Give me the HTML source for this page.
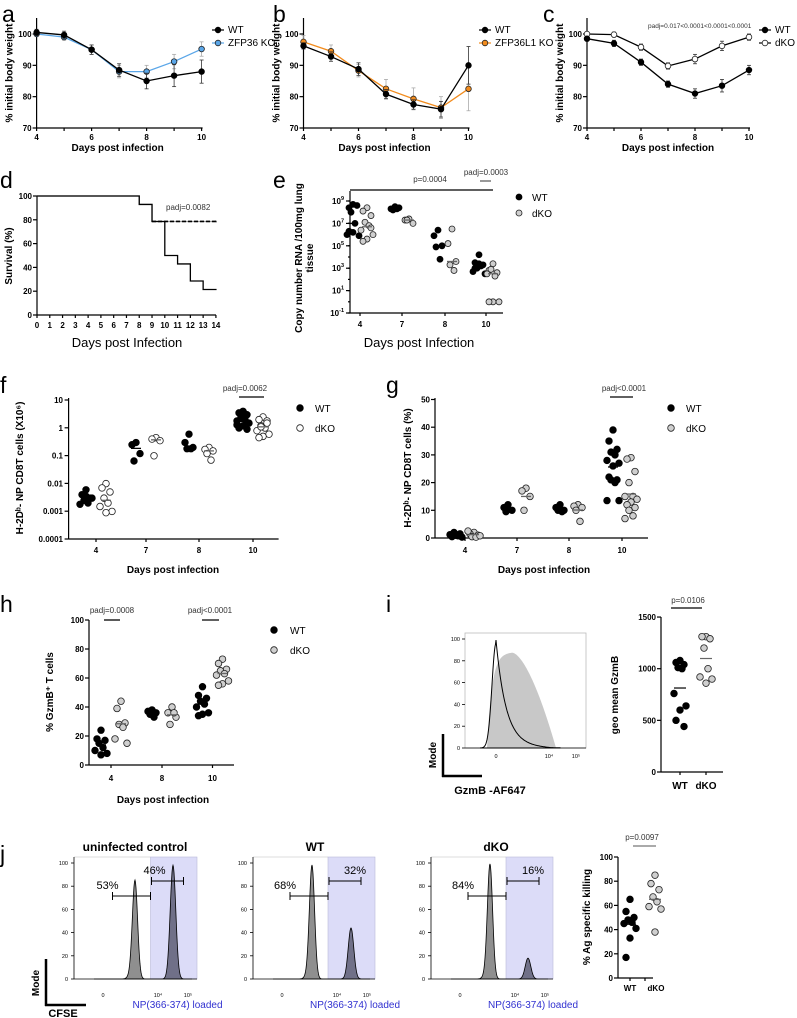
<!DOCTYPE html>
<html><head><meta charset="utf-8">
<style>
html,body{margin:0;padding:0;background:#fff;}
svg{display:block;font-family:"Liberation Sans Narrow","Liberation Sans",sans-serif;}
.t{font-weight:bold;font-size:8px;fill:#000;}
.ti{font-weight:bold;font-size:10px;fill:#000;}
.lt{font-family:"Liberation Sans",sans-serif;font-size:23px;fill:#000;}
.lg{font-size:10px;fill:#000;}
.p{font-size:8px;fill:#333;}
.my{font-family:"Liberation Sans Narrow","Liberation Sans",sans-serif;font-size:13px;fill:#000;}
</style></head>
<body>
<svg id="fig" width="797" height="1018" viewBox="0 0 797 1018" xmlns="http://www.w3.org/2000/svg"></svg>
<script>
// ---------- DATA ----------
const weightDays=[4,5,6,7,8,9,10];
const aWT=[100.5,99.7,95,88.5,85,86.7,88];
const aWTerr=[1,1.2,1.5,2,2.5,3.5,3.7];
const aKO=[100,99,95,88,88,91.2,95.2];
const aKOerr=[0.5,1,1.5,2,2,2.3,2.3];
const bWT=[96.2,92.8,88.8,80.8,77.5,76,90];
const bWTerr=[1,1.5,2,1.5,1.5,2.5,6];
const bKO=[97.5,94.5,88.3,82.5,79.3,76.5,82.5];
const bKOerr=[2,2,2,3,3.5,3.5,7];
const cWT=[98.5,97,91,84,81,83.5,88.5];
const cWTerr=[0.7,1,1,1,1.5,2,1.5];
const cKO=[100,99.8,95.8,89.8,92,96.2,99];
const cKOerr=[0.5,0.8,1,1,1.5,1.5,1];
const weightTicks=[70,80,90,100];
const weightXTicks=[4,6,8,10];
const survDays=[0,8,9,10,11,12,13,14];
const survWT=[100,92.9,78.6,50,42.9,28.6,21.4,22];
const survKO=[100,92.9,78.6,78.6,78.6,78.6,78.6,79.5];
const survTicks=[0,20,40,60,80,100];
const eCats=["4","7","8","10"];
const eWT=[[8.7,8.4,8.6,8.0,7.0,6.0,5.9,6.2,6.3],[8.5,8.3,8.4,8.2,8.3],[6.4,5.9,5.0,4.9,3.8],[4.2,3.5,3.3,3.0,3.2,2.7,2.5,3.4,3.0]];
const eKO=[[8.4,8.1,7.7,7.1,6.8,6.4,6.0,5.6,5.4,6.6],[7.4,7.3,7.0,7.3],[6.5,5.2,3.6,3.3,2.8],[3.4,2.8,2.6,2.9,2.3,2.5,0,0,0]];
const eTicks=[-1,1,3,5,7,9];
const fCats=["4","7","8","10"];
const fWT=[[0.006,0.004,0.003,0.0025,0.002,0.0018,0.003,0.0035],[0.3,0.25,0.12,0.065],[0.6,0.3,0.2,0.18,0.18],[4,3.5,3,2.5,2,1.8,1.5,1.2,1,0.9,2.2,3.2,1.3]];
const fKO=[[0.01,0.007,0.005,0.003,0.002,0.0015,0.001,0.0009],[0.45,0.4,0.35,0.1],[0.2,0.17,0.15,0.12,0.07],[2.5,2,1.8,1.2,1,0.8,0.6,0.5,0.45,1.5,1.1]];
const fTickLabels=["10","1","0.1","0.01","0.001","0.0001"];
const gCats=["4","7","8","10"];
const gWT=[[1,0.5,1.5,2,0.8,1.2,0.3,1],[12,11,10,9.5],[12,11,10,10,9.5],[39,35,32,31,30,28,27,26,22,21,21,20,13.5,13.5]];
const gKO=[[2,1.5,1,0.5,0.3,2.5,0.8],[18,17,15,10],[12,11.5,11,10,6],[29,28.5,24,20,15,15,14,13,12,11,10,8,7]];
const gTicks=[0,10,20,30,40,50];
const hCats=["4","8","10"];
const hWT=[[24,18,17,15,12,10,8,7],[38,37,36,35,33],[54,48,46,44,42,40,36,35,34]];
const hKO=[[44,39,29,28,26,18,15],[40,36,33,28,36],[73,70,66,65,63,62,58,56,55]];
const hTicks=[0,20,40,60,80,100];
const iWT=[1080,1060,1040,1010,1000,760,640,600,500,440];
const iKO=[1310,1310,1290,1200,1000,920,900,860];
const iTicks=[0,500,1000,1500];
const jWT=[65,55,50,48,46,45,41,33,17];
const jKO=[85,78,73,67,63,59,57,38];
const jTicks=[0,20,40,60,80,100];
const jTitles=["uninfected control","WT","dKO"];
const jLeftPct=["53%","68%","84%"];
const jRightPct=["46%","32%","16%"];
const jLeftPeak=[84,97,98];
const jRightPeak=[98,44,18];
const histTicks=[0,20,40,60,80,100];

// ---------- HELPERS ----------
const NS="http://www.w3.org/2000/svg";
const svg=document.getElementById('fig');
function mk(tag,attrs,name,parent){
  const el=document.createElementNS(NS,tag);
  for(const k in attrs) el.setAttribute(k,attrs[k]);
  
  
  (parent||svg).appendChild(el);return el;
}
function ln(x1,y1,x2,y2,name,st,w,dash){return mk('line',{x1,y1,x2,y2,stroke:st||'#000','stroke-width':w||1.2,'stroke-dasharray':dash||'none'},name);}
function tx(x,y,s,name,cls,anchor,extra){const e=mk('text',Object.assign({x,y,class:cls||'t','text-anchor':anchor||'middle'},extra||{}),name);e.textContent=s;return e;}
function rtx(x,y,s,name,cls){return tx(x,y,s,name,cls||'ti','middle',{transform:`rotate(-90 ${x} ${y})`});}
function dot(x,y,fill,name,r){return mk('circle',{cx:x,cy:y,r:r||3.3,fill:fill,stroke:fill==='#000'?'#000':'#222','stroke-width':0.8},name);}
function median(a){const s=[...a].sort((p,q)=>p-q);const m=Math.floor(s.length/2);return s.length%2?s[m]:(s[m-1]+s[m])/2;}
function mean(a){return a.reduce((p,q)=>p+q,0)/a.length;}
function jit(i,n){const cols=[0,-4,4,-2,2,-6,6];return cols[i%7];}

// ---------- WEIGHT PANELS a,b,c ----------
function weightPanel(x0,pd,letter,lx,wt,wte,ko,koe,col,open,leg,legx,extra){
  const X=d=>x0+(d-4)*pd, Y=v=>128-(v-70)*(94/30);
  tx(lx,22,letter,'panel-letter-'+letter,'lt','start');
  ln(x0,18,x0,128,'y-axis-'+letter);
  ln(x0,128,X(10)+1,128,'x-axis-'+letter);
  weightTicks.forEach(v=>{ln(x0-4,Y(v),x0,Y(v),'y-tick-'+letter);tx(x0-5,Y(v)+3,String(v),'y-tick-label-'+letter,'t','end');});
  weightDays.forEach(d=>ln(X(d),128,X(d),131,'x-tick-'+letter));
  weightXTicks.forEach(d=>tx(X(d),140,String(d),'x-tick-label-'+letter));
  tx(x0+81,151,'Days post infection','x-axis-title-'+letter,'ti');
  rtx(x0-24,73,'% initial body weight','y-axis-title-'+letter);
  const ser=[[ko,koe,col,'ko'],[wt,wte,'#000','wt']];
  ser.forEach(([vals,err,c,n])=>{
    const ec=c==='#000'?'#333':'#aaa';
    vals.forEach((v,i)=>{ln(X(weightDays[i]),Y(v+err[i]),X(weightDays[i]),Y(v-err[i]),'error-bar-'+n,ec,0.8);
      ln(X(weightDays[i])-2,Y(v+err[i]),X(weightDays[i])+2,Y(v+err[i]),'error-cap-'+n,ec,0.8);
      ln(X(weightDays[i])-2,Y(v-err[i]),X(weightDays[i])+2,Y(v-err[i]),'error-cap-'+n,ec,0.8);});
    mk('polyline',{points:vals.map((v,i)=>X(weightDays[i])+','+Y(v)).join(' '),fill:'none',stroke:c,'stroke-width':1.3},'line-'+n+'-'+letter);
    vals.forEach((v,i)=>dot(X(weightDays[i]),Y(v),(open&&n==='ko')?'#fff':c,'point-'+n+'-'+letter,2.8));
  });
  ln(legx-6,30,legx+6,30,'legend-wt-line-'+letter);dot(legx,30,'#000','legend-wt-marker-'+letter,2.8);
  tx(legx+10,33,'WT','legend-wt-label-'+letter,'lg','start');
  ln(legx-6,43,legx+6,43,'legend-ko-line-'+letter,col);dot(legx,43,open?'#fff':col,'legend-ko-marker-'+letter,2.8);
  tx(legx+10,46,leg,'legend-ko-label-'+letter,'lg','start');
  if(extra) tx(extra[0],extra[1],extra[2],'pvalue-'+letter,'p','start',{style:'font-size:6.5px'});
}
weightPanel(36.6,27.5,'a',2,aWT,aWTerr,aKO,aKOerr,'#5aa6e8',false,'ZFP36 KO',218);
weightPanel(303.5,27.5,'b',273,bWT,bWTerr,bKO,bKOerr,'#f28c1e',false,'ZFP36L1 KO',485);
weightPanel(587,27,'c',543,cWT,cWTerr,cKO,cKOerr,'#000',true,'dKO',765,[648,28,'padj=0.017<0.0001<0.0001<0.0001']);

// ---------- d SURVIVAL ----------
(function(){
  const X=t=>37+t*12.78, Y=v=>315-v*1.19;
  tx(0,188,'d','panel-letter-d','lt','start');
  ln(37,196,37,315,'y-axis-d');ln(37,315,216,315,'x-axis-d');
  survTicks.forEach(v=>{ln(33,Y(v),37,Y(v),'y-tick-d');tx(32,Y(v)+3,String(v),'y-tick-label-d','t','end');});
  for(let t=0;t<=14;t++){ln(X(t),315,X(t),318,'x-tick-d');tx(X(t),328,String(t),'x-tick-label-d');}
  tx(127,347,'Days post Infection','x-axis-title-d','my');
  rtx(12,256,'Survival (%)','y-axis-title-d');
  function steps(days,vals){let p=`M${X(days[0])},${Y(vals[0])}`;for(let i=1;i<days.length;i++){p+=` H${X(days[i])} V${Y(vals[i])}`;}return p;}
  mk('path',{d:steps(survDays,survKO),fill:'none',stroke:'#999','stroke-width':1.2},'survival-dko-line');
  mk('path',{d:`M${X(9)},${Y(survKO[3])} H${X(14)} V${Y(survKO[7])}`,fill:'none',stroke:'#000','stroke-width':1.6,'stroke-dasharray':'4,2'},'survival-dko-dashed');
  mk('path',{d:steps(survDays,survWT),fill:'none',stroke:'#000','stroke-width':1.3},'survival-wt-line');
  tx(166,210,'padj=0.0082','pvalue-d','p','start');
})();

// ---------- GENERIC DOT PLOT ----------
function dotPlot(o){
  o.cats.forEach((c,ci)=>{
    const cx=o.cx[ci];
    [[o.wt[ci],-o.off,'#000','wt'],[o.ko[ci],o.off,o.koFill,'ko']].forEach(([vals,off,fill,n])=>{
      vals.forEach((v,i)=>dot(cx+off+jit(i),o.Y(v),fill,'point-'+n+'-'+o.id+'-'+c,o.r||3.3));
      const m=o.stat(vals);
      ln(cx+off-5,o.Y(m),cx+off+5,o.Y(m),'mean-line-'+n+'-'+o.id,n==='wt'?'#000':'#666',1.3);
    });
  });
}

// ---------- e ----------
(function(){
  const Y=l=>313-(l+1)*11.2; const cx=[360,402,445,486];
  tx(273,188,'e','panel-letter-e','lt','start');
  ln(350,191,350,313,'y-axis-e');ln(350,313,503,313,'x-axis-e');
  eTicks.forEach(l=>{ln(346,Y(l),350,Y(l),'y-tick-e');const t=tx(344,Y(l)+3,'10','y-tick-label-e','t','end');
    const s=document.createElementNS(NS,'tspan');s.setAttribute('dy','-4');s.setAttribute('style','font-size:5.5px');s.textContent=String(l);t.appendChild(s);});
  for(let l=-1;l<=9;l++){ln(348,Y(l),350,Y(l),'y-minor-tick-e');}
  eCats.forEach((c,i)=>{ln(cx[i],313,cx[i],316,'x-tick-e');tx(cx[i],327,c,'x-tick-label-e');});
  tx(419,347,'Days post Infection','x-axis-title-e','my');
  rtx(302,258,'Copy number RNA /100mg lung','y-axis-title-e');
  rtx(313,258,'tissue','y-axis-title-e-line2');
  dotPlot({id:'e',cats:eCats,cx,wt:eWT,ko:eKO,koFill:'#cfcfcf',off:7,Y,stat:median,r:3});
  ln(350,190,493,190,'significance-bar-e',null,1.3);
  tx(430,182,'p=0.0004','pvalue-e-overall','p');
  tx(486,175,'padj=0.0003','pvalue-e-day10','p');
  ln(480,181,491,181,'significance-bar-e-day10','#555',1.2);
  dot(519,197,'#000','legend-wt-marker-e',3);tx(532,201,'WT','legend-wt-label-e','lg','start');
  dot(519,213,'#cfcfcf','legend-dko-marker-e',3);tx(532,217,'dKO','legend-dko-label-e','lg','start');
})();

// ---------- f ----------
(function(){
  const Y=v=>428-Math.log10(v)*27.8; const cx=[96,146,199,253];
  tx(0,393,'f','panel-letter-f','lt','start');
  ln(68.6,398,68.6,539,'y-axis-f');ln(68.6,539,278.6,539,'x-axis-f');
  fTickLabels.forEach((s,i)=>{const y=400+i*27.8;ln(64.6,y,68.6,y,'y-tick-f');tx(63,y+3,s,'y-tick-label-f','t','end');});
  fCats.forEach((c,i)=>{ln(cx[i],539,cx[i],542,'x-tick-f');tx(cx[i],553,c,'x-tick-label-f');});
  tx(173,573,'Days post infection','x-axis-title-f','ti');
  rtx(23,468,'H-2Dᵇ- NP CD8T cells (X10⁶)','y-axis-title-f');
  dotPlot({id:'f',cats:fCats,cx,wt:fWT,ko:fKO,koFill:'#fff',off:10,Y,stat:median});
  tx(245,391,'padj=0.0062','pvalue-f','p');ln(239,397,264,397,'significance-bar-f',null,1.3);
  dot(300,408,'#000','legend-wt-marker-f');tx(315,412,'WT','legend-wt-label-f','lg','start');
  dot(300,428,'#fff','legend-dko-marker-f');tx(315,432,'dKO','legend-dko-label-f','lg','start');
})();

// ---------- g ----------
(function(){
  const Y=v=>538-v*2.77; const cx=[465,517,569,622];
  tx(386,393,'g','panel-letter-g','lt','start');
  ln(435,398,435,538,'y-axis-g');ln(435,538,648,538,'x-axis-g');
  gTicks.forEach(v=>{ln(431,Y(v),435,Y(v),'y-tick-g');tx(430,Y(v)+3,String(v),'y-tick-label-g','t','end');});
  gCats.forEach((c,i)=>{ln(cx[i],538,cx[i],541,'x-tick-g');tx(cx[i],553,c,'x-tick-label-g');});
  tx(544,573,'Days post infection','x-axis-title-g','ti');
  rtx(411,468,'H-2Dᵇ- NP CD8T cells (%)','y-axis-title-g');
  dotPlot({id:'g',cats:gCats,cx,wt:gWT,ko:gKO,koFill:'#cfcfcf',off:9,Y,stat:mean});
  tx(624,391,'padj<0.0001','pvalue-g','p');ln(610,397,633,397,'significance-bar-g',null,1.3);
  dot(671,408,'#000','legend-wt-marker-g');tx(686,412,'WT','legend-wt-label-g','lg','start');
  dot(671,428,'#cfcfcf','legend-dko-marker-g');tx(686,432,'dKO','legend-dko-label-g','lg','start');
})();

// ---------- h ----------
(function(){
  const Y=v=>765-v*1.45; const cx=[111,162,212.5];
  tx(0,612,'h','panel-letter-h','lt','start');
  ln(89,620,89,765,'y-axis-h');ln(89,765,234,765,'x-axis-h');
  hTicks.forEach(v=>{ln(85,Y(v),89,Y(v),'y-tick-h');tx(84,Y(v)+3,String(v),'y-tick-label-h','t','end');});
  hCats.forEach((c,i)=>{ln(cx[i],765,cx[i],768,'x-tick-h');tx(cx[i],781,c,'x-tick-label-h');});
  tx(163,803,'Days post infection','x-axis-title-h','ti');
  rtx(53,692,'% GzmB⁺ T cells','y-axis-title-h');
  dotPlot({id:'h',cats:hCats,cx,wt:hWT,ko:hKO,koFill:'#cfcfcf',off:10,Y,stat:mean});
  tx(112,613,'padj=0.0008','pvalue-h-day4','p');ln(104,620,120,620,'significance-bar-h-day4',null,1.3);
  tx(210,613,'padj<0.0001','pvalue-h-day10','p');ln(202,620,219,620,'significance-bar-h-day10',null,1.3);
  dot(274,630,'#000','legend-wt-marker-h');tx(290,634,'WT','legend-wt-label-h','lg','start');
  dot(274,650,'#cfcfcf','legend-dko-marker-h');tx(290,654,'dKO','legend-dko-label-h','lg','start');
})();

// ---------- histogram helper ----------
function gauss(x,c,s){return Math.exp(-0.5*((x-c)/s)**2);}
function curvePath(x0,x1,yBase,Yf,fn){let p=`M${x0},${yBase}`;for(let x=x0;x<=x1;x+=0.5){p+=` L${x.toFixed(1)},${Yf(fn(x)).toFixed(1)}`;}return p+` L${x1},${yBase}Z`;}

// ---------- i ----------
(function(){
  tx(386,612,'i','panel-letter-i','lt','start');
  const base=748, Yh=v=>base-v*1.09;
  mk('rect',{x:465,y:633,width:121,height:115,fill:'none',stroke:'#bbb','stroke-width':0.8},'histogram-frame-i');
  const grey=x=>x<487?0:Math.min(88,88*(1-Math.exp(-(x-487)/5)))*(x<512?1:Math.max(0,1-((x-512)/44)**1.6));
  mk('path',{d:curvePath(480,560,base,Yh,grey),fill:'#c8c8c8',stroke:'none'},'histogram-dko-fill');
  const blk=x=>x<496?96*gauss(x,496,4):96*Math.exp(-(x-496)/10)+ (x<550?3*(1-(x-496)/54):0);
  mk('path',{d:curvePath(480,560,base,Yh,blk),fill:'none',stroke:'#000','stroke-width':1},'histogram-wt-line');
  ln(465,748,586,748,'histogram-x-axis-i','#000',0.8);
  histTicks.forEach(v=>{ln(462,Yh(v),465,Yh(v),'histogram-y-tick-i',null,0.8);tx(460,Yh(v)+2,String(v),'histogram-y-tick-label-i','t','end',{style:'font-size:5.5px;font-weight:normal'});});
  tx(496,758,'0','histogram-x-tick-label-i','t','middle',{style:'font-size:5.5px;font-weight:normal'});
  tx(549,758,'10⁴','histogram-x-tick-label-i','t','middle',{style:'font-size:5.5px;font-weight:normal'});
  tx(576,758,'10⁵','histogram-x-tick-label-i','t','middle',{style:'font-size:5.5px;font-weight:normal'});
  ln(443,734,443,777,'scale-bar-vertical-i',null,2.5);ln(442,776,482,776,'scale-bar-horizontal-i',null,2.5);
  rtx(436,755,'Mode','mode-label-i','ti');
  tx(490,794,'GzmB -AF647','gzmb-axis-title-i','ti',null,{style:'font-size:11px'});
  const Y=v=>772-v*0.1033;
  ln(661,617,661,772,'y-axis-i-scatter');ln(661,772,723,772,'x-axis-i-scatter');
  iTicks.forEach(v=>{ln(657,Y(v),661,Y(v),'y-tick-i');tx(656,Y(v)+3,String(v),'y-tick-label-i','t','end');});
  ln(680,772,680,775,'x-tick-i');ln(706,772,706,775,'x-tick-i');
  tx(680,789,'WT','x-tick-label-wt-i','ti');tx(706,789,'dKO','x-tick-label-dko-i','ti');
  rtx(618,695,'geo mean GzmB','y-axis-title-i');
  iWT.forEach((v,i)=>dot(680+jit(i),Y(v),'#000','point-wt-i'));
  iKO.forEach((v,i)=>dot(706+jit(i),Y(v),'#cfcfcf','point-dko-i'));
  ln(674,Y(mean(iWT)),686,Y(mean(iWT)),'mean-line-wt-i');
  ln(700,Y(mean(iKO)),712,Y(mean(iKO)),'mean-line-dko-i','#666');
  tx(688,603,'p=0.0106','pvalue-i','p');ln(671,608,702,608,'significance-bar-i',null,1.3);
})();

// ---------- j ----------
(function(){
  tx(0,862,'j','panel-letter-j','lt','start');
  const ax=[74,253,431], axEnd=[197,375,553], blue=[150.5,328,506], lp=[135,312,490], rp=[173,351,528], tc=[135,315,496];
  const base=979, Yh=v=>base-v*1.16;
  jTitles.forEach((t,k)=>{
    tx(tc[k],851,t,'histogram-title-'+k,'ti',null,{style:'font-size:12px'});
    mk('rect',{x:blue[k],y:857,width:axEnd[k]-blue[k],height:base-857,fill:'#dcdcf8',stroke:'#b9b9d9','stroke-width':0.6},'np-loaded-region-'+k);
    mk('line',{x1:ax[k],y1:857,x2:blue[k],y2:857,stroke:'#bbb','stroke-width':0.6},'histogram-frame-top-'+k);
    const fn=x=>jLeftPeak[k]*gauss(x,lp[k],2.6)+jRightPeak[k]*gauss(x,rp[k],2.8)+3*gauss(x,lp[k]-4,3);
    mk('path',{d:curvePath(ax[k]+20,blue[k],base,Yh,fn),fill:'#8f8f8f',stroke:'#000','stroke-width':0.8},'histogram-unloaded-peak-'+k);
    mk('path',{d:curvePath(blue[k],axEnd[k]-5,base,Yh,fn),fill:'#707088',stroke:'#000','stroke-width':0.8},'histogram-loaded-peak-'+k);
    ln(ax[k],857,ax[k],base,'histogram-y-axis-'+k,null,0.8);
    ln(ax[k],base,axEnd[k],base,'histogram-x-axis-'+k,null,0.8);
    histTicks.forEach(v=>{ln(ax[k]-3,Yh(v),ax[k],Yh(v),'histogram-y-tick-'+k,null,0.8);tx(ax[k]-6,Yh(v)+2,String(v),'histogram-y-tick-label-'+k,'t','end',{style:'font-size:5.5px;font-weight:normal'});});
    tx(ax[k]+29,997,'0','histogram-x-tick-label-'+k,'t','middle',{style:'font-size:5.5px;font-weight:normal'});
    tx(ax[k]+84,997,'10⁴','histogram-x-tick-label-'+k,'t','middle',{style:'font-size:5.5px;font-weight:normal'});
    tx(ax[k]+114,997,'10⁵','histogram-x-tick-label-'+k,'t','middle',{style:'font-size:5.5px;font-weight:normal'});
    const lx1=blue[k]-38, rx2=blue[k]+33;
    ln(lx1,896,blue[k],896,'gate-unloaded-'+k,null,1);ln(lx1,892,lx1,900,'gate-cap-'+k,null,1);ln(blue[k],892,blue[k],900,'gate-cap-'+k,null,1);
    ln(blue[k]+1,881,rx2,881,'gate-loaded-'+k,null,1);ln(blue[k]+1,877,blue[k]+1,885,'gate-cap-'+k,null,1);ln(rx2,877,rx2,885,'gate-cap-'+k,null,1);
    tx(lx1-5,889,jLeftPct[k],'gate-unloaded-pct-'+k,'my','middle',{style:'font-size:11px'});
    tx(blue[k]+10,874,jRightPct[k],'gate-loaded-pct-'+k,'my','middle',{style:'font-size:11px'}).setAttribute('x',k===0?blue[k]+4:blue[k]+27);
    tx(blue[k]+27,1008,'NP(366-374) loaded','np-loaded-label-'+k,'my','middle',{style:'font-size:10px;fill:#3030d0'});
  });
  ln(46,959,46,1006,'scale-bar-vertical-j',null,2.5);ln(45,1005,86,1005,'scale-bar-horizontal-j',null,2.5);
  rtx(39,983,'Mode','mode-label-j','ti');
  tx(63,1017,'CFSE','cfse-label-j','ti',null,{style:'font-size:11px'});
  const Y=v=>978-v*1.21;
  ln(618,857,618,978,'y-axis-j-scatter');ln(618,978,653,978,'x-axis-j-scatter');
  jTicks.forEach(v=>{ln(614,Y(v),618,Y(v),'y-tick-j');tx(613,Y(v)+3,String(v),'y-tick-label-j','t','end');});
  ln(630,978,630,981,'x-tick-j');ln(645,978,645,981,'x-tick-j');
  tx(630,991,'WT','x-tick-label-wt-j','t');tx(656,991,'dKO','x-tick-label-dko-j','t');
  rtx(590,917,'% Ag specific killing','y-axis-title-j');
  jWT.forEach((v,i)=>dot(630+jit(i),Y(v),'#000','point-wt-j'));
  jKO.forEach((v,i)=>dot(655+jit(i),Y(v),'#cfcfcf','point-dko-j'));
  ln(624,Y(mean(jWT)),636,Y(mean(jWT)),'mean-line-wt-j');
  ln(649,Y(mean(jKO)),661,Y(mean(jKO)),'mean-line-dko-j','#666');
  tx(642,840,'p=0.0097','pvalue-j','p');ln(633,846,656,846,'significance-bar-j','#777',1.3);
})();
</script>
</body></html>
